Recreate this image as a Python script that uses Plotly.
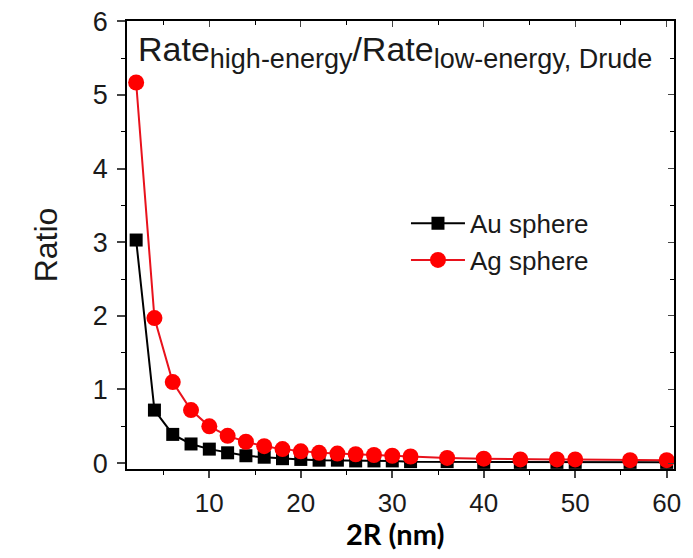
import plotly.graph_objects as go

diameter_nm = [2, 4, 6, 8, 10, 12, 14, 16, 18, 20, 22, 24, 26, 28, 30, 32, 36, 40, 44, 48, 50, 56, 60]
au_ratio = [3.03, 0.72, 0.39, 0.26, 0.19, 0.14, 0.10, 0.08, 0.06, 0.05, 0.04, 0.04, 0.03, 0.03,
            0.03, 0.02, 0.02, 0.01, 0.01, 0.01, 0.01, 0.01, 0.01]
ag_ratio = [5.17, 1.97, 1.10, 0.72, 0.50, 0.37, 0.29, 0.23, 0.19, 0.16, 0.14, 0.13, 0.12, 0.11,
            0.10, 0.09, 0.07, 0.06, 0.05, 0.05, 0.05, 0.04, 0.04]
series_names = ["Au sphere", "Ag sphere"]
x_ticks = [10, 20, 30, 40, 50, 60]
y_ticks = [0, 1, 2, 3, 4, 5, 6]

X_RANGE = [1.0, 60.8]
Y_RANGE = [-0.08, 6.005]
FONT = "Liberation Sans, Arial, sans-serif"

fig = go.Figure()
fig.add_trace(go.Scatter(
    x=diameter_nm, y=au_ratio, name=series_names[0], mode="lines+markers",
    line=dict(color="black", width=2),
    marker=dict(symbol="square", size=13, color="black"),
))
fig.add_trace(go.Scatter(
    x=diameter_nm, y=ag_ratio, name=series_names[1], mode="lines+markers",
    line=dict(color="#e8121c", width=2),
    marker=dict(symbol="circle", size=16, color="#ff0000"),
))

fig.update_layout(
    width=677, height=542,
    margin=dict(l=119, r=11, t=13, b=81),
    paper_bgcolor="white", plot_bgcolor="white",
    font=dict(family=FONT, color="#1a1a1a"),
    showlegend=True,
    legend=dict(x=0.51, y=0.601, xanchor="left", yanchor="top",
                font=dict(size=26, family=FONT, color="#1a1a1a"),
                bgcolor="rgba(0,0,0,0)", itemwidth=54, tracegroupgap=0),
    xaxis=dict(range=X_RANGE, tickvals=x_ticks, ticks="outside", ticklen=7, tickwidth=1.5,
               showline=True, linecolor="black", linewidth=1.5, showgrid=False, zeroline=False,
               automargin=False,
               tickfont=dict(size=26, family=FONT, color="#1a1a1a"), ticklabelstandoff=3,
               ticklabeloverflow="allow",
               minor=dict(tickvals=[5, 15, 25, 35, 45, 55], ticks="outside", ticklen=4,
                          tickwidth=1.2, tickcolor="black")),
    yaxis=dict(range=Y_RANGE, tickvals=y_ticks, ticks="outside", ticklen=8, tickwidth=1.5,
               showline=True, linecolor="black", linewidth=1.5, showgrid=False, zeroline=False,
               automargin=False,
               tickfont=dict(size=27, family=FONT, color="#1a1a1a"), ticklabelstandoff=4,
               ticklabeloverflow="allow",
               minor=dict(tickvals=[0.5, 1.5, 2.5, 3.5, 4.5, 5.5], ticks="outside", ticklen=4,
                          tickwidth=1.2, tickcolor="black"),
               title=dict(text="Ratio", font=dict(size=32, family=FONT, color="#1a1a1a"),
                          standoff=26)),
    xaxis2=dict(range=X_RANGE, overlaying="x", side="top", tickvals=x_ticks, ticks="inside",
                ticklen=6, tickwidth=1.2, showticklabels=False, showline=True, automargin=False,
                linecolor="black", linewidth=1.5, showgrid=False, zeroline=False,
                minor=dict(tickvals=[5, 15, 25, 35, 45, 55], ticks="inside", ticklen=4,
                           tickcolor="black")),
    yaxis2=dict(range=Y_RANGE, overlaying="y", side="right", tickvals=y_ticks, ticks="inside",
                ticklen=6, tickwidth=1.2, showticklabels=False, showline=True, automargin=False,
                linecolor="black", linewidth=1.5, showgrid=False, zeroline=False,
                minor=dict(tickvals=[0.5, 1.5, 2.5, 3.5, 4.5, 5.5], ticks="inside", ticklen=4,
                           tickcolor="black")),
)
# invisible trace to activate mirror axes
fig.add_trace(go.Scatter(x=[None], y=[None], xaxis="x2", yaxis="y2", showlegend=False,
                         hoverinfo="skip"))

fig.add_annotation(
    xref="paper", yref="paper", x=0.016, y=0.985, xanchor="left", yanchor="top",
    text=("Rate<sub><span style=\"font-size:27px\">high-energy</span></sub>"
          "/Rate<sub><span style=\"font-size:27px\">low-energy, Drude</span></sub>"),
    showarrow=False, font=dict(size=34, family=FONT, color="#1a1a1a"),
)
# x-axis title
fig.add_annotation(
    xref="paper", yref="paper", x=0.49, y=-0.145, xanchor="center", yanchor="middle",
    text="<b>2R (nm)</b>", showarrow=False,
    font=dict(size=29, family="Lato, sans-serif", color="black"),
)

fig.write_html("out.html")
